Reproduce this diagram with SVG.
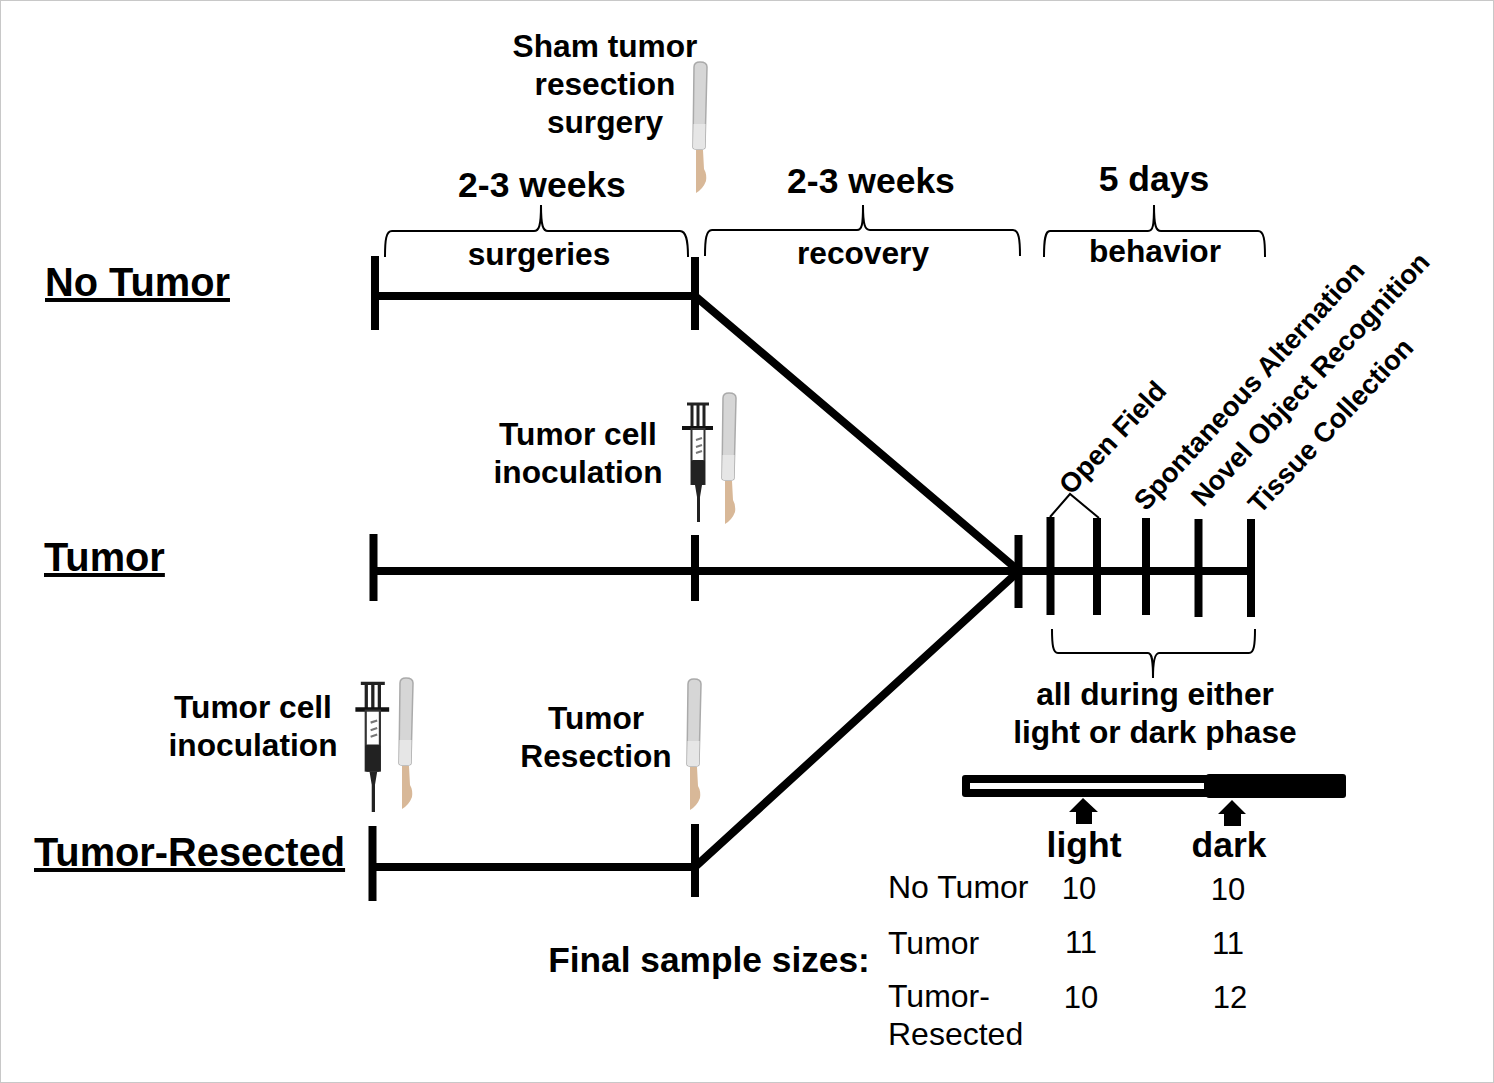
<svg xmlns="http://www.w3.org/2000/svg" width="1494" height="1083" viewBox="0 0 1494 1083">
<style>
text{font-family:"Liberation Sans",Arial,sans-serif;fill:#000}
.b{font-weight:bold;font-size:31.700px;text-anchor:middle}
.h{font-weight:bold;font-size:35.500px;text-anchor:middle}
.g{font-weight:bold;font-size:39.800px;text-decoration:underline}
.n{font-size:32px}
.m{font-size:31px;text-anchor:middle}
.r{font-weight:bold;font-size:27.500px}
.t{stroke:#000;stroke-width:8;fill:none}
.br{stroke:#000;stroke-width:2;fill:none}
</style>
<defs>
<g id="syringe">
<path d="M687 404H709M692 404V428M698 404V428M704 404V428" stroke="#222" stroke-width="3" fill="none"/>
<path d="M682 428H713" stroke="#111" stroke-width="4"/>
<rect x="691.500" y="429" width="13" height="55" fill="#fff" stroke="#333" stroke-width="2"/>
<rect x="691" y="460" width="14" height="25" rx="2" fill="#222"/>
<path d="M696 440l6-2M696 447l6-2M696 453l6-2" stroke="#777" stroke-width="2"/>
<path d="M695 485H702L700 497V522H697V497Z" fill="#222"/>
</g>
<g id="scalpel">
<path d="M723 398Q723 393 729 393Q736 393 736 398L734 478Q734 480 731 480H725Q722 480 722 478Z" fill="#d6d6d6" stroke="#aaa" stroke-width="1.500"/>
<path d="M722.500 455L734.500 455L734 478Q734 480 731 480H725Q722 480 722 478Z" fill="#e6e6e6"/>
<path d="M725 481H732L733 500Q736 505 735 512Q732 520 725 524L725 505Z" fill="#d8b898"/>
</g>
</defs>
<rect x="0.500" y="0.500" width="1493" height="1082" fill="#fff" stroke="#c8c8c8"/>
<g id="connectors">
<path class="t" d="M375 296H695L1019 571"/>
<path class="t" d="M374 571H1250"/>
<path class="t" d="M373 867H695L1019 571"/>
<path class="t" d="M375 256V330M695 257V330M373.500 534V601M695 535V601M372.500 826V901M695 824V897M1018.500 535V608M1050.500 517V615M1097 518V615M1146 518V615M1198.500 519V617M1251 519V617"/>
<path class="br" d="M385 257C385 240 386 231 392 231H534C539 231 541 226 541 205C541 226 543 231 548 231H680C686 231 688 240 688 257"/>
<path class="br" d="M705 256C705 240 706 230 712 230H857C862 230 863 225 863 205C863 225 865 230 870 230H1013C1019 230 1020 240 1020 256"/>
<path class="br" d="M1044 257C1044 240 1045 231 1050 231H1148C1153 231 1154 226 1154 205C1154 226 1156 231 1161 231H1258C1264 231 1265 240 1265 257"/>
<path class="br" d="M1052 629C1052 645 1053 653 1058 653H1148C1152 653 1153 660 1153 678C1153 660 1155 653 1159 653H1249C1254 653 1255 645 1255 629"/>
<path class="br" d="M1050 517L1070 494L1099 518"/>
</g>
<g id="no-tumor"><text class="g" x="45" y="296">No Tumor</text></g>
<g id="tumor"><text class="g" x="44" y="571">Tumor</text></g>
<g id="tumor-resected"><text class="g" x="34" y="866">Tumor-Resected</text></g>
<g id="sham-surgery">
<text class="b" x="605" y="57">Sham tumor</text>
<text class="b" x="605" y="95">resection</text>
<text class="b" x="605" y="133">surgery</text>
<use href="#scalpel" transform="translate(-29 -331)"/>
</g>
<g id="period-surgeries"><text class="h" x="542" y="197">2-3 weeks</text><text class="b" x="539" y="265">surgeries</text></g>
<g id="period-recovery"><text class="h" x="871" y="193">2-3 weeks</text><text class="b" x="863" y="264">recovery</text></g>
<g id="period-behavior"><text class="h" x="1154" y="191">5 days</text><text class="b" x="1155" y="262">behavior</text></g>
<g id="tumor-inoculation">
<text class="b" x="578" y="445">Tumor cell</text>
<text class="b" x="578" y="483">inoculation</text>
<use href="#syringe"/>
<use href="#scalpel"/>
</g>
<g id="resected-inoculation">
<text class="b" x="253" y="718">Tumor cell</text>
<text class="b" x="253" y="756">inoculation</text>
<use href="#syringe" transform="translate(-388 243) scale(1.090)"/>
<use href="#scalpel" transform="translate(-323 285)"/>
</g>
<g id="tumor-resection">
<text class="b" x="596" y="729">Tumor</text>
<text class="b" x="596" y="767">Resection</text>
<use href="#scalpel" transform="translate(-35 286)"/>
</g>
<g id="behavior-labels">
<text class="r" transform="translate(1071 496) rotate(-47)">Open Field</text>
<text class="r" transform="translate(1146 512) rotate(-47.500)">Spontaneous Alternation</text>
<text class="r" transform="translate(1203 508) rotate(-47)">Novel Object Recognition</text>
<text class="r" transform="translate(1260 515) rotate(-47)">Tissue Collection</text>
</g>
<g id="phase-note">
<text class="b" x="1155" y="705">all during either</text>
<text class="b" x="1155" y="743">light or dark phase</text>
</g>
<g id="phase-bar">
<rect x="962" y="775" width="250" height="22" rx="3" fill="#000"/>
<rect x="970" y="783" width="234" height="6" fill="#fff"/>
<rect x="1206" y="774" width="140" height="24" rx="3" fill="#000"/>
<path d="M1083 798L1098 812H1092V824H1076V812H1069Z"/>
<path d="M1232 800L1246 814H1241V826H1224V814H1218Z"/>
</g>
<g id="sample-table">
<text class="h" x="1084" y="857">light</text>
<text class="h" x="1229" y="857">dark</text>
<text class="n" x="888" y="898">No Tumor</text>
<text class="n" x="888" y="954">Tumor</text>
<text class="n" x="888" y="1007">Tumor-</text>
<text class="n" x="888" y="1045">Resected</text>
<text class="m" x="1079" y="899">10</text>
<text class="m" x="1228" y="900">10</text>
<text class="m" x="1081" y="953">11</text>
<text class="m" x="1228" y="954">11</text>
<text class="m" x="1081" y="1008">10</text>
<text class="m" x="1230" y="1008">12</text>
<text class="b" style="font-size:35.300px" x="709" y="972">Final sample sizes:</text>
</g>
</svg>
